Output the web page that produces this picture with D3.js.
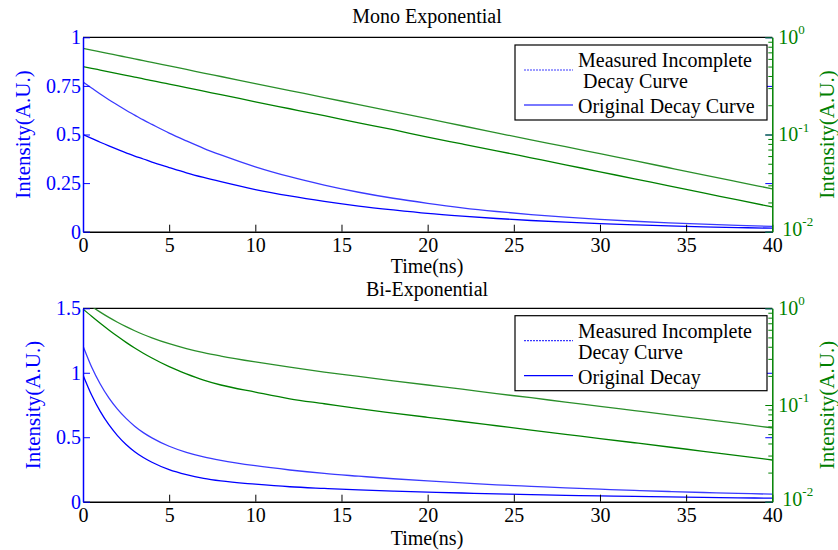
<!DOCTYPE html>
<html>
  <head>
    <meta charset="utf-8">
    <title>Decay curves</title>
    <script type="text/javascript" src="https://d3js.org/d3.v7.min.js"></script>
    <style>
      body { margin: 0; background: #fff; }
      text { font-family: "Liberation Serif", "Times New Roman", serif; }
    </style>
  </head>
  <body>
    <script type="text/javascript">
    var w = 838;
    var h = 550;

    // time points (ns)
    var times = [0, 0.5, 1, 1.5, 2, 2.5, 3, 3.5, 4, 5, 6, 7, 8, 10, 12, 14, 16, 18, 20,
                 22, 24, 26, 28, 30, 32, 34, 36, 38, 40];

    // mono exponential panel
    var monoMeasured = [0.77, 0.739, 0.708, 0.679, 0.652, 0.625, 0.60, 0.575, 0.552, 0.507, 0.467,
                        0.429, 0.395, 0.334, 0.283, 0.240, 0.203, 0.172, 0.146, 0.123, 0.104,
                        0.088, 0.075, 0.0635, 0.0538, 0.0455, 0.0385, 0.0326, 0.0276];
    var monoOriginal = [0.50, 0.48, 0.46, 0.441, 0.423, 0.406, 0.389, 0.374, 0.358, 0.33, 0.303,
                        0.279, 0.257, 0.217, 0.184, 0.156, 0.132, 0.112, 0.094, 0.080, 0.068,
                        0.0576, 0.0488, 0.0413, 0.035, 0.0296, 0.0251, 0.0212, 0.018];

    // bi-exponential panel
    var biMeasured = [1.208, 1.045, 0.913, 0.805, 0.718, 0.646, 0.586, 0.536, 0.495, 0.430, 0.383,
                      0.348, 0.321, 0.279, 0.246, 0.219, 0.198, 0.178, 0.161, 0.146, 0.131,
                      0.119, 0.107, 0.097, 0.0875, 0.079, 0.0715, 0.0645, 0.058];
    var biOriginal = [0.983, 0.827, 0.70, 0.597, 0.513, 0.444, 0.388, 0.343, 0.306, 0.249, 0.21,
                      0.181, 0.161, 0.136, 0.116, 0.103, 0.0915, 0.0825, 0.0746, 0.0675, 0.061,
                      0.0551, 0.0498, 0.045, 0.0407, 0.0368, 0.0332, 0.030, 0.027];

    var xTicks = [0, 5, 10, 15, 20, 25, 30, 35, 40];
    var monoTicks = [0, 0.25, 0.5, 0.75, 1];
    var biTicks = [0, 0.5, 1, 1.5];
    var logTicks = [1, 0.1, 0.01];
    var logExp = ["0", "-1", "-2"];

    var blue = "#0000ff";
    var green = "#008000";

    var svg = d3.select("body")
                .append("svg")
                .attr("width", w)
                .attr("height", h);

    var left = 83, right = 772.3;
    var x = d3.scaleLinear().domain([0, 40]).range([left, right]);

    var panels = [
      {title: "Mono Exponential", top: 37.3, bottom: 231.7, yMax: 1, ticks: monoTicks,
       measured: monoMeasured, original: monoOriginal, titleY: 23, xlabY: 273,
       ylabX: 30, legTop: 45, legend2: " Decay Curve", legend3: "Original Decay Curve"},
      {title: "Bi-Exponential", top: 308.3, bottom: 501.7, yMax: 1.5, ticks: biTicks,
       measured: biMeasured, original: biOriginal, titleY: 296, xlabY: 545,
       ylabX: 40, legTop: 315.7, legend2: "Decay Curve", legend3: "Original Decay"}
    ];

    panels.forEach(function(p, i){
      var yL = d3.scaleLinear().domain([0, p.yMax]).range([p.bottom, p.top]);
      var yR = d3.scaleLog().domain([0.01, 1]).range([p.bottom, p.top]);
      var g = svg.append("g");

      g.append("clipPath").attr("id", "clip" + i)
       .append("rect")
       .attr("x", left).attr("y", p.top)
       .attr("width", right - left).attr("height", p.bottom - p.top);

      // top frame
      g.append("line")
       .attr("x1", left).attr("x2", right)
       .attr("y1", p.top).attr("y2", p.top)
       .attr("stroke", "#000").attr("stroke-width", 1.2);

      // curves (same data on the linear and the log axis)
      var lineL = d3.line()
                    .x(function(d, k){ return x(times[k]); })
                    .y(function(d){ return yL(d); })
                    .curve(d3.curveMonotoneX);
      var lineR = d3.line()
                    .x(function(d, k){ return x(times[k]); })
                    .y(function(d){ return yR(d); })
                    .curve(d3.curveMonotoneX);
      var curves = g.append("g").attr("clip-path", "url(#clip" + i + ")").attr("fill", "none");
      curves.append("path").attr("d", lineR(p.measured)).attr("stroke", "#2a8f2a").attr("stroke-width", 1.3);
      curves.append("path").attr("d", lineR(p.original)).attr("stroke", green).attr("stroke-width", 1.3);
      curves.append("path").attr("d", lineL(p.measured)).attr("stroke", "#3a3aff").attr("stroke-width", 1.3);
      curves.append("path").attr("d", lineL(p.original)).attr("stroke", blue).attr("stroke-width", 1.3);

      // x axis
      var xa = g.append("g")
                .attr("transform", "translate(0," + p.bottom + ")")
                .call(d3.axisBottom(x).tickValues(xTicks).tickSizeInner(-7).tickSizeOuter(0).tickPadding(6));
      xa.select(".domain").attr("stroke", "#000").attr("stroke-width", 1.5);
      xa.selectAll("text").attr("font-size", 20).attr("fill", "#000")
        .attr("font-family", "Liberation Serif");

      // left axis
      var la = g.append("g")
                .attr("transform", "translate(" + left + ",0)")
                .call(d3.axisLeft(yL).tickValues(p.ticks).tickFormat(function(d){ return String(d); })
                        .tickSizeInner(-7).tickSizeOuter(0).tickPadding(2));
      la.select(".domain").attr("stroke", blue).attr("stroke-width", 1.5);
      la.selectAll(".tick line").attr("stroke", blue);
      la.selectAll("text").attr("font-size", 20).attr("fill", blue)
        .attr("font-family", "Liberation Serif");

      // left ticks mirrored on right edge
      var lm = g.append("g")
                .attr("transform", "translate(" + right + ",0)")
                .call(d3.axisRight(yL).tickValues(p.ticks).tickFormat("").tickSizeInner(-7).tickSizeOuter(0));
      lm.select(".domain").remove();
      lm.selectAll(".tick line").attr("stroke", blue);

      // right log axis
      var minor = [];
      [0.01, 0.1].forEach(function(dec){
        for (var m = 2; m <= 9; m++) minor.push(dec * m);
      });
      var rm = g.append("g")
                .attr("transform", "translate(" + right + ",0)")
                .call(d3.axisRight(yR).tickValues(minor).tickFormat("").tickSizeInner(-4).tickSizeOuter(0));
      rm.select(".domain").remove();
      rm.selectAll(".tick line").attr("stroke", green);
      var ra = g.append("g")
                .attr("transform", "translate(" + right + ",0)")
                .call(d3.axisRight(yR).tickValues(logTicks).tickFormat("").tickSizeInner(-7).tickSizeOuter(0));
      ra.select(".domain").attr("stroke", green).attr("stroke-width", 1.5);
      ra.selectAll(".tick line").attr("stroke", green);
      ra.selectAll(".tick text").each(function(d, k){
        var t = d3.select(this)
                  .attr("x", k === 2 ? 10 : 6).attr("dy", k === 2 ? "0.2em" : "0.32em").attr("font-size", 20)
                  .attr("fill", green).attr("text-anchor", "start")
                  .attr("font-family", "Liberation Serif");
        t.text("10");
        t.append("tspan").attr("font-size", 13).attr("dy", "-0.75em").text(logExp[k]);
      });

      // titles and labels
      g.append("text").attr("x", 427).attr("y", p.titleY)
       .attr("text-anchor", "middle").attr("font-size", 20).attr("fill", "#000")
       .text(p.title);
      g.append("text").attr("x", 427).attr("y", p.xlabY)
       .attr("text-anchor", "middle").attr("font-size", 20).attr("fill", "#000")
       .text("Time(ns)");
      var midY = (p.top + p.bottom) / 2;
      g.append("text")
       .attr("transform", "translate(" + p.ylabX + "," + midY + ") rotate(-90)")
       .attr("text-anchor", "middle").attr("font-size", 21).attr("fill", blue)
       .text("Intensity(A.U.)");
      g.append("text")
       .attr("transform", "translate(834," + midY + ") rotate(-90)")
       .attr("text-anchor", "middle").attr("font-size", 21).attr("fill", green)
       .text("Intensity(A.U.)");

      // legend
      var lg = g.append("g").attr("transform", "translate(515," + p.legTop + ")");
      lg.append("rect").attr("width", 252).attr("height", 75)
        .attr("fill", "#fff").attr("stroke", "#000").attr("stroke-width", 1.2);
      lg.append("line").attr("x1", 9).attr("x2", 58).attr("y1", 25).attr("y2", 25)
        .attr("stroke", "#3a3aff").attr("stroke-width", 1.2).attr("stroke-dasharray", "2,1");
      lg.append("line").attr("x1", 9).attr("x2", 58).attr("y1", 60).attr("y2", 60)
        .attr("stroke", i === 0 ? "#4d4dff" : blue).attr("stroke-width", 1.3);
      lg.append("text").attr("x", 63).attr("y", 22).attr("font-size", 20)
        .attr("fill", "#000").text("Measured Incomplete");
      lg.append("text").attr("x", 63).attr("y", 43).attr("font-size", 20)
        .attr("fill", "#000").attr("xml:space", "preserve").style("white-space", "pre")
        .text(p.legend2);
      lg.append("text").attr("x", 63).attr("y", 68).attr("font-size", 20)
        .attr("fill", "#000").text(p.legend3);
    });
    </script>
  </body>
</html>
